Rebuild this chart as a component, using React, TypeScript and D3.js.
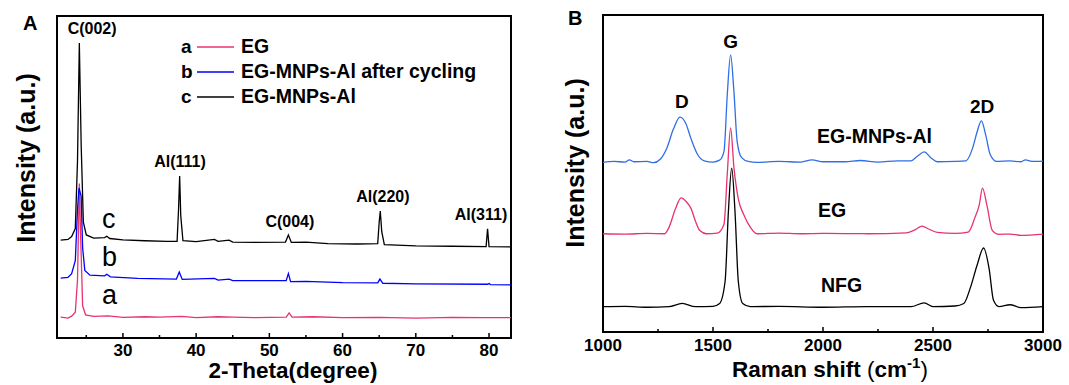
import React from 'react'
import * as d3 from 'd3'

// XRD patterns (2-theta, intensity in arbitrary offset units)
const xrdEG: [number, number][] = [
  [21.5, 6.5], [22.5, 6.2], [23.0, 6.8], [23.5, 8], [23.8, 18], [24.05, 48], [24.25, 30], [24.5, 10],
  [24.9, 7.2], [26, 6.7], [28, 6.9], [30, 6.4], [33, 6.6], [35, 6.5], [38, 6.7], [40, 6.3], [43, 6.6],
  [45, 6.5], [48, 6.3], [52.3, 6.5], [52.7, 7.8], [53.1, 6.5], [56, 6.6], [60, 6.3], [65, 6.4],
  [70, 6.2], [75, 6.4], [79, 6.3], [83, 6.3],
]
const xrdCycled: [number, number][] = [
  [21.5, 18.6], [22.5, 18.8], [23.0, 20], [23.5, 24], [23.8, 40], [24.0, 46.6], [24.3, 44], [24.5, 28],
  [24.8, 21], [25.5, 19.5], [27.5, 19.3], [27.8, 19.8], [28.3, 19.0], [32, 18.5], [37.3, 18.3],
  [37.7, 20.5], [38.1, 18.2], [42.5, 18.5], [43, 18], [44.5, 18.3], [45, 17.8], [52.3, 17.8],
  [52.6, 20], [52.9, 17.5], [55, 17.6], [60, 17.2], [64.8, 17.1], [65.1, 18.3], [65.5, 17],
  [70, 16.8], [79.8, 16.7], [80, 16.9], [80.2, 16.6], [83, 16.5],
]
const xrdMNPs: [number, number][] = [
  [21.5, 30.4], [22.5, 30.6], [23.0, 31.5], [23.5, 34], [23.8, 55], [24.05, 91.6], [24.3, 60],
  [24.6, 36], [25.0, 32], [26, 31], [27.5, 31.2], [27.8, 31.6], [28.2, 30.9], [30, 30.5], [33, 30.2],
  [36, 30], [37.4, 30], [37.6, 40], [37.75, 50.3], [37.9, 38], [38.2, 30.2], [40, 29.9], [42.5, 30.6],
  [43, 30], [44.5, 30.4], [45, 29.8], [48, 29.7], [52.2, 29.8], [52.6, 32], [53.0, 29.7], [55, 29.8],
  [58, 29.3], [62, 29.2], [64.8, 29.3], [65.0, 36], [65.15, 39.4], [65.35, 33], [65.7, 29], [70, 28.6],
  [75, 28.5], [79.6, 28.4], [79.8, 33.9], [80.0, 28.4], [83, 28.3],
]

// Raman spectra (shift in cm-1, intensity in arbitrary offset units)
const ramanMNPs: [number, number][] = [
  [1000, 53.5], [1050, 53.8], [1100, 53.6], [1120, 54.3], [1140, 53.7], [1200, 53.8], [1230, 53.4],
  [1260, 54.5], [1290, 58], [1320, 64], [1350, 67.8], [1375, 66], [1400, 61], [1430, 56], [1460, 54],
  [1500, 53.6], [1530, 54.2], [1550, 57], [1565, 75], [1580, 87.4], [1595, 76], [1610, 60], [1630, 55],
  [1660, 53.8], [1700, 53.5], [1800, 53.8], [1900, 53.6], [1950, 54.3], [2000, 53.7], [2100, 53.7],
  [2170, 54.1], [2250, 53.6], [2340, 54], [2400, 54], [2430, 55.5], [2460, 56.8], [2490, 55],
  [2520, 53.7], [2600, 53.8], [2650, 54], [2680, 58], [2700, 63], [2720, 66.6], [2740, 62],
  [2760, 56], [2790, 53.8], [2850, 54], [2900, 53.7], [2920, 54.3], [2950, 53.8], [3000, 53.9],
]
const ramanEG: [number, number][] = [
  [1000, 31], [1100, 30.9], [1200, 31.1], [1280, 31], [1300, 33], [1330, 39], [1355, 42.3],
  [1380, 41], [1400, 39], [1420, 35], [1440, 32], [1470, 31], [1520, 31.2], [1550, 34], [1565, 50],
  [1580, 64.4], [1595, 52], [1615, 42], [1640, 37], [1670, 33], [1700, 31], [1800, 31.2], [1900, 31],
  [2000, 31.1], [2200, 31], [2380, 31.3], [2420, 32.3], [2450, 33.4], [2480, 32.5], [2520, 31.4],
  [2600, 31.1], [2660, 31.5], [2690, 36], [2710, 40], [2725, 45.4], [2745, 40], [2770, 32],
  [2800, 30.8], [2850, 30.9], [2900, 30.5], [3000, 30.9],
]
const ramanNFG: [number, number][] = [
  [1000, 8], [1100, 8.1], [1200, 7.8], [1300, 8.0], [1360, 9.0], [1420, 8.0], [1500, 8.1], [1530, 9],
  [1555, 16], [1570, 38], [1585, 51.7], [1600, 38], [1615, 16], [1635, 9], [1670, 8], [1800, 8.1],
  [2000, 7.8], [2200, 8.0], [2400, 8.0], [2460, 9.2], [2500, 8.0], [2600, 8.2], [2640, 9], [2670, 14],
  [2700, 21], [2730, 26.5], [2755, 20], [2775, 10], [2800, 8], [2850, 8.6], [2900, 7.7], [3000, 8],
]

const xrdTicks = [30, 40, 50, 60, 70, 80]
const xrdMinor = [25, 35, 45, 55, 65, 75]
const ramanTicks = [1000, 1500, 2000, 2500, 3000]
const ramanMinor = [1250, 1750, 2250, 2750]

const xrdPeaks = [
  { label: 'C(002)', x: 25.8, y: 94.4 },
  { label: 'Al(111)', x: 37.8, y: 53.1 },
  { label: 'C(004)', x: 52.8, y: 34.5 },
  { label: 'Al(220)', x: 65.5, y: 42.2 },
  { label: 'Al(311)', x: 78.9, y: 36.6 },
]
const ramanPeaks = [
  { label: 'G', x: 1580, y: 89.6 },
  { label: 'D', x: 1359, y: 70.7 },
  { label: '2D', x: 2723, y: 69.1 },
]
const ramanNames = [
  { label: 'EG-MNPs-Al', x: 1973, y: 59.6 },
  { label: 'EG', x: 1977, y: 36.3 },
  { label: 'NFG', x: 1991, y: 12.6 },
]

const RED = '#e8336e'
const FONT = 'Liberation Sans, Arial, sans-serif'

const Axis = ({ x, ticks, minor, x0, x1, y0, y1, labelY }: any) => (
  <g>
    <rect x={x0} y={y0} width={x1 - x0} height={y1 - y0} fill="none" stroke="#000" strokeWidth={2} />
    {ticks.map((t: number) => (
      <g key={t}>
        <line x1={x(t)} x2={x(t)} y1={y1} y2={y1 - 5} stroke="#000" strokeWidth={1.5} />
        <text x={x(t)} y={labelY} textAnchor="middle" fontSize={17} fontWeight="bold">{t}</text>
      </g>
    ))}
    {minor.map((t: number) => (
      <line key={t} x1={x(t)} x2={x(t)} y1={y1} y2={y1 - 3} stroke="#000" strokeWidth={1.5} />
    ))}
  </g>
)

export default function App() {
  // panel A
  const ax = d3.scaleLinear().domain([21, 83]).range([57, 511])
  const ay = d3.scaleLinear().domain([0, 100]).range([338, 16])
  const aLine = d3.line<[number, number]>().x(d => ax(d[0])).y(d => ay(d[1]))

  // panel B
  const bx = d3.scaleLinear().domain([1000, 3000]).range([603, 1043])
  const by = d3.scaleLinear().domain([0, 100]).range([332, 15])
  const bLine = d3.line<[number, number]>().x(d => bx(d[0])).y(d => by(d[1])).curve(d3.curveMonotoneX)

  const legend = [
    { key: 'a', name: 'EG', color: RED },
    { key: 'b', name: 'EG-MNPs-Al after cycling', color: '#0000ff' },
    { key: 'c', name: 'EG-MNPs-Al', color: '#000' },
  ]

  return (
    <svg width={1069} height={385} style={{ position: 'absolute', left: 0, top: 0, background: '#fff' }}
      fontFamily={FONT}>
      {/* Panel A */}
      <text x={23} y={30} fontSize={20} fontWeight="bold">A</text>
      <text transform="translate(35,158) rotate(-90)" textAnchor="middle" fontSize={25} fontWeight="bold">
        Intensity (a.u.)
      </text>
      <text x={293} y={378} textAnchor="middle" fontSize={22.5} fontWeight="bold">2-Theta(degree)</text>
      <Axis x={ax} ticks={xrdTicks} minor={xrdMinor} x0={57} x1={511} y0={16} y1={338} labelY={356} />
      <path d={aLine(xrdEG) || ''} fill="none" stroke={RED} strokeWidth={1.3} />
      <path d={aLine(xrdCycled) || ''} fill="none" stroke="#0000ff" strokeWidth={1.3} />
      <path d={aLine(xrdMNPs) || ''} fill="none" stroke="#000" strokeWidth={1.3} />
      {xrdPeaks.map(p => (
        <text key={p.label} x={ax(p.x)} y={ay(p.y)} textAnchor="middle" fontSize={16} fontWeight="bold">{p.label}</text>
      ))}
      {['c', 'b', 'a'].map((k, i) => (
        <text key={k} x={102} y={228 + i * 38} fontSize={27}>{k}</text>
      ))}
      {legend.map((l, i) => (
        <g key={l.key} transform={`translate(0,${53 + i * 25})`}>
          <text x={181} y={0} fontSize={19} fontWeight="bold">{l.key}</text>
          <line x1={197} x2={234} y1={-6} y2={-6} stroke={l.color} strokeWidth={1.5} />
          <text x={241} y={0} fontSize={19.5} fontWeight="bold">{l.name}</text>
        </g>
      ))}

      {/* Panel B */}
      <text x={568} y={25} fontSize={20} fontWeight="bold">B</text>
      <text transform="translate(584,163) rotate(-90)" textAnchor="middle" fontSize={25} fontWeight="bold">
        Intensity (a.u.)
      </text>
      <text x={830} y={377} textAnchor="middle" fontSize={22.5} fontWeight="bold">
        Raman shift <tspan fontWeight="normal">(</tspan>cm<tspan dy={-9} fontSize={15}>-1</tspan><tspan dy={9} fontWeight="normal">)</tspan>
      </text>
      <Axis x={bx} ticks={ramanTicks} minor={ramanMinor} x0={603} x1={1043} y0={15} y1={332} labelY={351} />
      <path d={bLine(ramanNFG) || ''} fill="none" stroke="#000" strokeWidth={1.3} />
      <path d={bLine(ramanEG) || ''} fill="none" stroke={RED} strokeWidth={1.3} />
      <path d={bLine(ramanMNPs) || ''} fill="none" stroke="#2f6ee6" strokeWidth={1.3} />
      {ramanPeaks.map(p => (
        <text key={p.label} x={bx(p.x)} y={by(p.y)} textAnchor="middle" fontSize={19} fontWeight="bold">{p.label}</text>
      ))}
      {ramanNames.map(p => (
        <text key={p.label} x={bx(p.x)} y={by(p.y)} fontSize={19.5} fontWeight="bold">{p.label}</text>
      ))}
    </svg>
  )
}
